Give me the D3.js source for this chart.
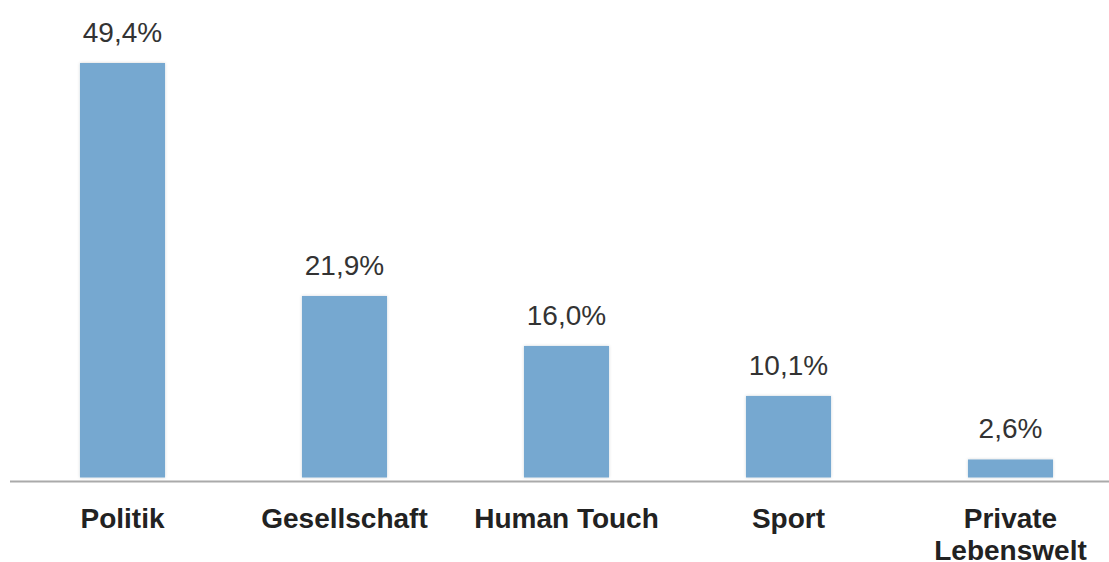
<!DOCTYPE html>
<html>
<head>
<meta charset="utf-8">
<script src="https://cdn.jsdelivr.net/npm/d3@7/dist/d3.min.js"></script>
<style>
  html, body { margin: 0; padding: 0; background: #fff; }
  svg { display: block; }
</style>
</head>
<body>
<svg id="chart" width="1109" height="562"></svg>
<script>
// Themen-Anteile
const categories = ["Politik", "Gesellschaft", "Human Touch", "Sport", "Private Lebenswelt"];
const values = [49.4, 21.9, 16.0, 10.1, 2.6];
const valueLabels = ["49,4%", "21,9%", "16,0%", "10,1%", "2,6%"];
const categoryLines = [["Politik"], ["Gesellschaft"], ["Human Touch"], ["Sport"], ["Private", "Lebenswelt"]];

const W = 1109, H = 562;
const svg = d3.select("#chart");

const defs = svg.append("defs");
const shadow = defs.append("filter").attr("id", "barShadow")
  .attr("x", "-10%").attr("y", "-10%").attr("width", "120%").attr("height", "120%");
shadow.append("feDropShadow")
  .attr("dx", 0).attr("dy", 0).attr("stdDeviation", 1.6)
  .attr("flood-color", "#000").attr("flood-opacity", 0.18);

const x = d3.scaleBand()
  .domain(categories)
  .range([11.5, 1121.5])
  .paddingInner(0.617)
  .paddingOuter(0.3085);

const y = d3.scaleLinear()
  .domain([0, 49.4])
  .range([481.5, 63]);

const data = categories.map((c, i) => ({ c, v: values[i], label: valueLabels[i], lines: categoryLines[i] }));
const barBottom = y(0) - 4;

// Bars
svg.append("g").selectAll("rect")
  .data(data)
  .join("rect")
  .attr("x", d => x(d.c))
  .attr("y", d => y(d.v))
  .attr("width", x.bandwidth())
  .attr("height", d => barBottom - y(d.v))
  .attr("fill", "#76a8d0")
  .attr("filter", "url(#barShadow)");

// Baseline
svg.append("line")
  .attr("x1", 10).attr("x2", W)
  .attr("y1", y(0)).attr("y2", y(0))
  .attr("stroke", "#aaaaaa")
  .attr("stroke-width", 2);

// Value labels
svg.append("g").selectAll("text")
  .data(data)
  .join("text")
  .attr("x", d => x(d.c) + x.bandwidth() / 2)
  .attr("y", d => y(d.v) - 21)
  .attr("text-anchor", "middle")
  .attr("font-family", "'Liberation Sans', Arial, sans-serif")
  .attr("font-size", 28)
  .attr("fill", "#333")
  .text(d => d.label);

// Category labels
const cat = svg.append("g").selectAll("text")
  .data(data)
  .join("text")
  .attr("x", d => x(d.c) + x.bandwidth() / 2)
  .attr("y", 528)
  .attr("text-anchor", "middle")
  .attr("font-family", "'Liberation Sans', Arial, sans-serif")
  .attr("font-size", 28)
  .attr("font-weight", "bold")
  .attr("fill", "#222");

cat.selectAll("tspan")
  .data(d => d.lines.map(l => ({ l, cx: x(d.c) + x.bandwidth() / 2 })))
  .join("tspan")
  .attr("x", d => d.cx)
  .attr("dy", (d, i) => i === 0 ? 0 : 32)
  .text(d => d.l);
</script>
</body>
</html>
